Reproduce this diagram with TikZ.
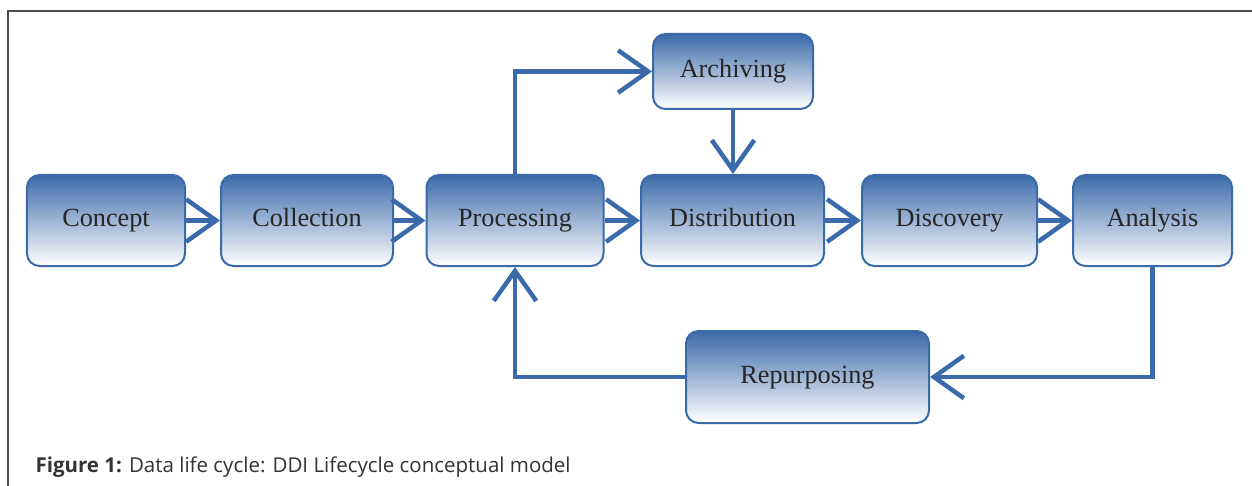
\documentclass[tikz,border=0pt]{standalone}
\usepackage{fontspec}
\setmainfont{Liberation Serif}
\newfontfamily\capfont{Open Sans}
\usetikzlibrary{arrows.meta}
\definecolor{ddiblue}{RGB}{59,106,170}

\begin{document}
\begin{tikzpicture}[x=0.4pt,y=-0.4pt,
    stage/.style={draw=ddiblue,line width=0.8pt,rounded corners=5pt,top color=ddiblue,
      middle color=ddiblue!35,bottom color=white,minimum height=36.4pt,inner sep=0pt,
      text height=7.2pt,text depth=2.2pt,font=\fontsize{10.5}{12}\selectfont,text=black!85},
    flow/.style={draw=ddiblue,line width=1.8pt,
      -{Straight Barb[length=12pt,width=17pt,line width=1.8pt]}}]
      \useasboundingbox (0,0) rectangle (1252,486);
      \draw[black!70,line width=0.6pt] (8,486) -- (8,11) -- (1252,11);
      % life cycle stages
      \node[stage,minimum width=63.2pt] (concept) at (106,220.5) {Concept};
      \node[stage,minimum width=68.8pt] (collection) at (307,220.5) {Collection};
      \node[stage,minimum width=70.8pt] (processing) at (515,220.5) {Processing};
      \node[stage,minimum width=73.2pt] (distribution) at (732.5,220.5) {Distribution};
      \node[stage,minimum width=70pt] (discovery) at (949.5,220.5) {Discovery};
      \node[stage,minimum width=63.6pt] (analysis) at (1152.5,220.5) {Analysis};
      \node[stage,minimum width=64pt,minimum height=30pt] (archiving) at (733,71.5) {Archiving};
      \node[stage,minimum width=97.2pt,minimum height=36.8pt] (repurposing) at (807.5,377) {Repurposing};
      % connectors
      \draw[flow] (concept) -- (collection);
      \draw[flow] (collection) -- (processing);
      \draw[flow] (processing) -- (distribution);
      \draw[flow] (distribution) -- (discovery);
      \draw[flow] (discovery) -- (analysis);
      \draw[flow] (processing.north) |- (archiving.west);
      \draw[flow] (archiving.south) -- (archiving.south |- distribution.north);
      \draw[flow] (analysis.south) |- (repurposing.east);
      \draw[flow] (repurposing.west) -| (processing.south);
      \node[anchor=base west,inner sep=0pt,font=\capfont\fontsize{8.2}{10}\selectfont,text=black!80] (caption) at (35,472)
        {\textbf{Figure 1:} Data life cycle: DDI Lifecycle conceptual model};
\end{tikzpicture}
\end{document}
